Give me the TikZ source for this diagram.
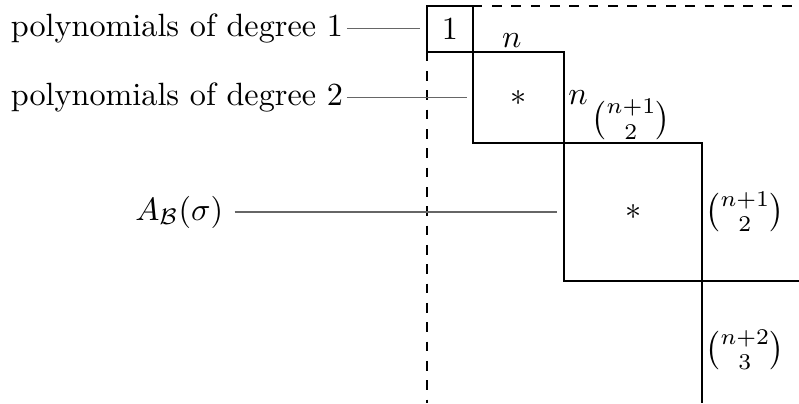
\documentclass[tikz,border=0pt]{standalone}
\usepackage{amsmath}
\usetikzlibrary{positioning}
\begin{document}
\begin{tikzpicture}[x=0.5cm, y=0.5cm,
  stair/.style={semithick},
  ptr/.style={thin, black!60},
  txt/.style={anchor=east, inner sep=1pt},
  dim/.style={inner sep=1pt}
]
  \useasboundingbox (-9.32,0.13) rectangle (8.12,-8.67);

  % block staircase
  \draw[stair] (0,-1) -- (0,0) -- (1,0) -- (1,-3) -- (6,-3) -- (6,-8.67);
  \draw[stair] (0,-1) -- (3,-1) -- (3,-6) -- (8.12,-6);
  \draw[stair, dashed] (1,0) -- (8.12,0);
  \draw[stair, dashed] (0,-1) -- (0,-8.67);

  \node (one) at (0.5,-0.5) {$1$};
  \node (st1) at (2,-2) {$*$};
  \node (st2) at (4.5,-4.5) {$*$};

  \node[dim, above] (n1) at (1.85,-1) {$n$};
  \node[dim, right] (n2) at (3,-2) {$n$};
  \node[dim, above] (b1) at (4.45,-3) {$\binom{n+1}{2}$};
  \node[dim, right] (b2) at (6,-4.5) {$\binom{n+1}{2}$};
  \node[dim, right] (b3) at (6,-7.5) {$\binom{n+2}{3}$};

  % labels on the left
  \node[txt] (deg1) at (-1.75,-0.5) {polynomials of degree 1};
  \node[txt] (deg2) at (-1.75,-2) {polynomials of degree 2};
  \node[anchor=east] (amat) at (-4.2,-4.5) {$A_{\mathcal{B}}(\sigma)$};
  \coordinate (t1) at (-0.15,-0.5);
  \coordinate (t2) at (0.87,-2);
  \coordinate (t3) at (2.84,-4.5);
  \draw[ptr] (deg1) -- (t1);
  \draw[ptr] (deg2) -- (t2);
  \draw[ptr] (amat) -- (t3);
\end{tikzpicture}
\end{document}
